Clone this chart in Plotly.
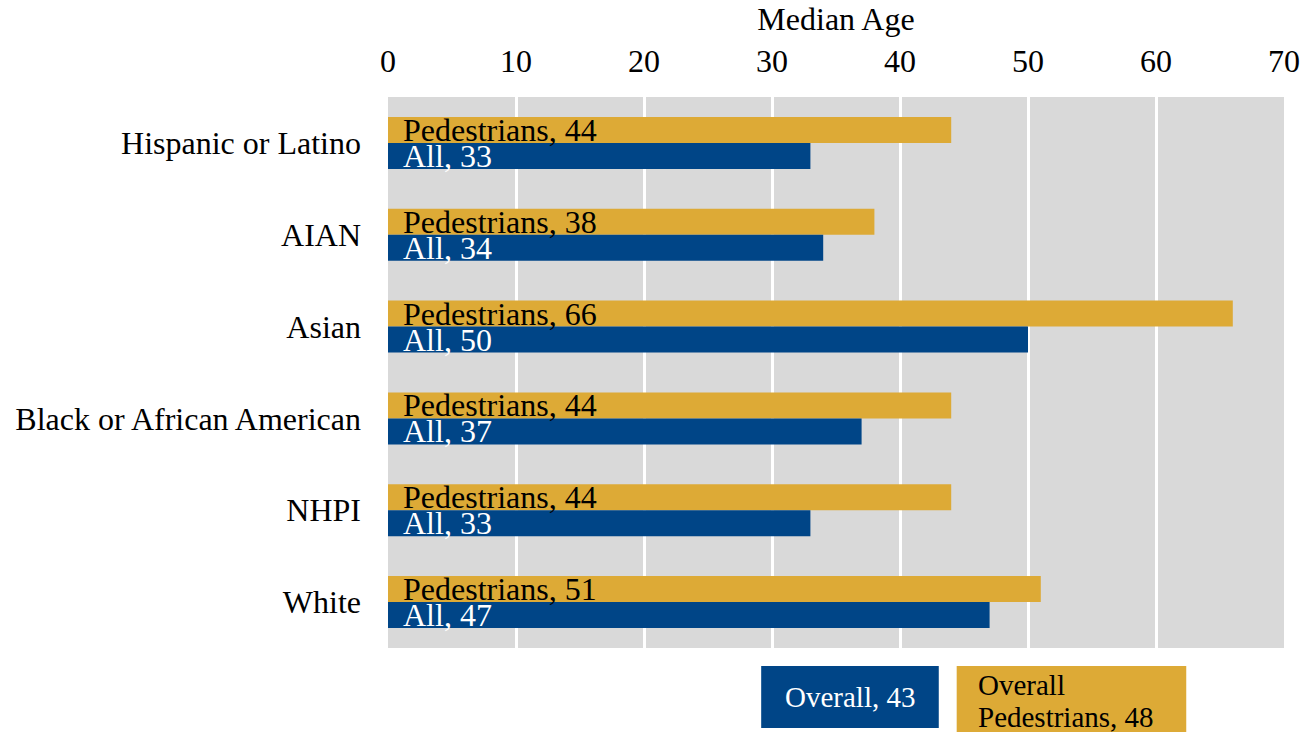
import plotly.graph_objects as go

# Median age by race/ethnicity: all people vs. pedestrians
categories = ["Hispanic or Latino", "AIAN", "Asian", "Black or African American", "NHPI", "White"]
pedestrians = [44, 38, 66, 44, 44, 51]
all_people = [33, 34, 50, 37, 33, 47]
overall_all = 43
overall_ped = 48
x_ticks = [0, 10, 20, 30, 40, 50, 60, 70]

GOLD = "#DDAA36"
BLUE = "#004587"
FONT = "Liberation Serif, Times New Roman, serif"

fig = go.Figure()
fig.add_trace(go.Bar(
    y=categories, x=pedestrians, orientation="h", name="Pedestrians",
    marker=dict(color=GOLD, line=dict(width=0)), hoverinfo="x+y",
))
fig.add_trace(go.Bar(
    y=categories, x=all_people, orientation="h", name="All",
    marker=dict(color=BLUE, line=dict(width=0)), hoverinfo="x+y",
))

# Labels drawn inside the left end of each bar
for cat, p, a in zip(categories, pedestrians, all_people):
    fig.add_annotation(x=0, y=cat, xref="x", yref="y", text=f"Pedestrians, {p}",
                       showarrow=False, xanchor="left", yanchor="middle",
                       xshift=13, yshift=13, font=dict(family=FONT, size=32, color="black"))
    fig.add_annotation(x=0, y=cat, xref="x", yref="y", text=f"All, {a}",
                       showarrow=False, xanchor="left", yanchor="middle",
                       xshift=13, yshift=-13, font=dict(family=FONT, size=32, color="white"))

# Overall summary boxes below the plot
fig.add_shape(type="rect", xref="paper", yref="paper",
              x0=0.4165, x1=0.6147, y0=-0.1452, y1=-0.0327,
              fillcolor=BLUE, line=dict(width=0), layer="above")
fig.add_shape(type="rect", xref="paper", yref="paper",
              x0=0.6347, x1=0.8909, y0=-0.20, y1=-0.0327,
              fillcolor=GOLD, line=dict(width=0), layer="above")
fig.add_annotation(x=0.5156, y=-0.0889, xref="paper", yref="paper",
                   text=f"Overall, {overall_all}", showarrow=False,
                   xanchor="center", yanchor="middle",
                   font=dict(family=FONT, size=29, color="white"))
for line_text, ypos in [("Overall", -0.0672), (f"Pedestrians, {overall_ped}", -0.1252)]:
    fig.add_annotation(x=0.656, y=ypos, xref="paper", yref="paper",
                       text=line_text, showarrow=False,
                       xanchor="left", yanchor="middle", align="left",
                       font=dict(family=FONT, size=29, color="black"))

fig.update_layout(
    width=1312, height=732,
    margin=dict(l=388, r=25, t=97, b=84),
    barmode="group", bargap=0.433, bargroupgap=0,
    plot_bgcolor="#D9D9D9", paper_bgcolor="white",
    showlegend=False,
    font=dict(family=FONT, size=32, color="black"),
    xaxis=dict(
        side="top", range=[0, 70], tickvals=x_ticks,
        ticktext=[str(t) for t in x_ticks],
        showgrid=True, gridcolor="white", gridwidth=2.5,
        zeroline=False, showline=False, ticks="",
        ticklabelstandoff=18,
        tickfont=dict(family=FONT, size=32),
        title=dict(text="Median Age", font=dict(family=FONT, size=32), standoff=2),
    ),
    yaxis=dict(
        autorange="reversed", showgrid=False, zeroline=False, showline=False,
        ticks="", ticklabelstandoff=26,
        tickfont=dict(family=FONT, size=32),
    ),
)

fig.write_html("out.html")
